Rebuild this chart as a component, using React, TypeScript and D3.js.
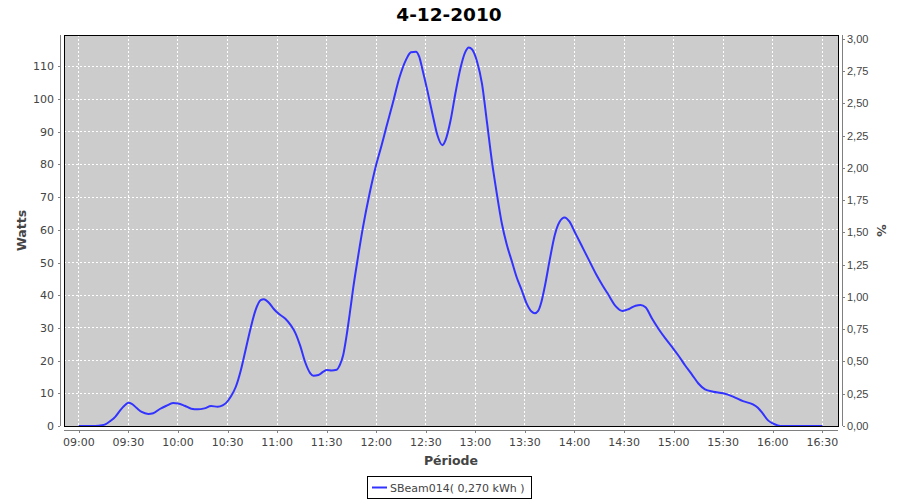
import React from "react";
import * as d3 from "d3";

const TITLE = "4-12-2010";
const SERIES_NAME = "SBeam014( 0,270 kWh )";
const X_TICKS = ["09:00","09:30","10:00","10:30","11:00","11:30","12:00","12:30","13:00","13:30","14:00","14:30","15:00","15:30","16:00","16:30"];
const Y_TICKS = [0,10,20,30,40,50,60,70,80,90,100,110];
const Y2_TICKS = [0,0.25,0.5,0.75,1,1.25,1.5,1.75,2,2.25,2.5,2.75,3];

const times = ["09:00","09:05","09:10","09:14","09:16","09:19","09:22","09:25","09:28","09:30","09:32","09:35","09:38","09:42","09:45","09:49","09:53","09:57","10:00","10:04","10:08","10:12","10:16","10:20","10:24","10:27","10:29","10:32","10:35","10:38","10:41","10:44","10:47","10:50","10:52","10:55","10:58","11:01","11:05","11:08","11:11","11:14","11:17","11:20","11:22","11:25","11:28","11:30","11:33","11:36","11:38","11:40","11:42","11:44","11:46","11:49","11:52","11:56","12:00","12:03","12:06","12:10","12:14","12:18","12:21","12:24","12:26","12:28","12:31","12:34","12:37","12:40","12:42","12:45","12:48","12:51","12:54","12:56","12:58","13:01","13:04","13:07","13:10","13:13","13:16","13:19","13:22","13:25","13:28","13:31","13:34","13:36","13:38","13:40","13:42","13:45","13:48","13:51","13:54","13:57","14:00","14:04","14:08","14:13","14:17","14:20","14:25","14:29","14:33","14:37","14:40","14:43","14:47","14:51","14:55","14:59","15:03","15:07","15:11","15:15","15:19","15:24","15:30","15:36","15:42","15:48","15:51","15:54","15:57","16:00","16:03","16:06","16:15","16:30"];
const watts = [0,0,0,0.2,0.5,1.5,2.8,4.8,6.4,7.1,6.8,5.5,4.3,3.7,3.9,5.2,6.2,7.0,6.9,6.2,5.3,5.1,5.4,6.1,5.9,6.3,7.0,9.0,12,17,23.5,30,35.5,38.5,38.8,37.7,35.8,34.3,32.8,31,28.5,24.5,19.5,16.2,15.4,15.6,16.6,17.1,17.0,17.2,18.7,21.7,27.5,34.5,42,51.8,60.9,71.2,80,85.4,91.2,98.7,106.5,112,114.3,114.5,113,109,102.5,95.5,89,85.9,87.5,93.5,102,109.5,114.5,115.8,115.2,111.5,104.7,93,81,71,62,55.5,50.5,45.5,41.6,37.5,35,34.5,35.2,38,42.6,50.8,58.3,62.5,63.8,62.5,59.5,55.5,51.5,46.5,43,40.6,36.6,35.2,35.8,36.8,37.0,36.3,32.8,29.6,26.8,24.2,21.5,18.5,15.8,13,11.2,10.5,10.0,9.0,7.6,6.6,5.6,3.8,1.8,0.8,0.2,0,0,0];

const parseT = (s: string) => {
  const [h, m] = s.split(":").map(Number);
  return new Date(2010, 11, 4, h, m, 0);
};

const W = 900, H = 500;
const PL = 64, PR = 838, PT = 35, PB = 426;

export default function App() {
  const x = d3.scaleTime().domain([new Date(2010, 11, 4, 8, 51, 0), new Date(2010, 11, 4, 16, 39, 30)]).range([PL, PR]);
  const y = d3.scaleLinear().domain([0, 119.6]).range([PB, PT]);
  const y2 = d3.scaleLinear().domain([0, 3.03]).range([PB, PT]);
  const data = times.map((t, i) => ({ t: parseT(t), v: watts[i] }));
  const line = d3.line<{ t: Date; v: number }>().x(d => x(d.t)).y(d => y(d.v)).curve(d3.curveMonotoneX);
  const tickFont = "DejaVu Sans, sans-serif";
  const fmt2 = (v: number) => v.toFixed(2).replace(".", ",");
  return (
    <div style={{ position: "absolute", left: 0, top: 0 }}>
      <svg width={W} height={H} style={{ display: "block" }}>
        <rect x={0} y={0} width={W} height={H} fill="#ffffff" />
        <text x={449} y={21} textAnchor="middle" fontFamily={tickFont} fontWeight="bold" fontSize={18.5} fill="#000">{TITLE}</text>
        <rect x={PL} y={PT} width={PR - PL} height={PB - PT} fill="#cccccc" />
        {X_TICKS.map(s => (
          <line key={"gx" + s} x1={x(parseT(s))} x2={x(parseT(s))} y1={PT} y2={PB} stroke="#ffffff" strokeDasharray="2,2" strokeWidth={1} shapeRendering="crispEdges" />
        ))}
        {Y_TICKS.map(v => (
          <line key={"gy" + v} x1={PL} x2={PR} y1={y(v)} y2={y(v)} stroke="#ffffff" strokeDasharray="2,2" strokeWidth={1} shapeRendering="crispEdges" />
        ))}
        <path d={line(data) || ""} fill="none" stroke="#3333ff" strokeWidth={2} strokeLinejoin="round" />
        <rect x={PL} y={PT} width={PR - PL} height={PB - PT} fill="none" stroke="#000" strokeWidth={1} shapeRendering="crispEdges" />
        {/* left axis */}
        <line x1={60.5} x2={60.5} y1={PT} y2={PB} stroke="#808080" />
        {Y_TICKS.map(v => (
          <g key={"ly" + v}>
            <line x1={58} x2={60} y1={Math.round(y(v)) + 0.5} y2={Math.round(y(v)) + 0.5} stroke="#808080" />
            <text x={54} y={y(v) + 4} textAnchor="end" fontFamily={tickFont} fontSize={11} fill="#444">{v}</text>
          </g>
        ))}
        <text transform={`translate(26,${(PT + PB) / 2}) rotate(-90)`} textAnchor="middle" fontFamily={tickFont} fontWeight="bold" fontSize={12.5} fill="#444">Watts</text>
        {/* right axis */}
        <line x1={842.5} x2={842.5} y1={PT} y2={PB} stroke="#808080" />
        {Y2_TICKS.map(v => (
          <g key={"ry" + v}>
            <line x1={843} x2={845} y1={Math.round(y2(v)) + 0.5} y2={Math.round(y2(v)) + 0.5} stroke="#808080" />
            <text x={847} y={y2(v) + 4} textAnchor="start" fontFamily="Liberation Sans, Arial, sans-serif" fontSize={11} fill="#444">{fmt2(v)}</text>
          </g>
        ))}
        <text transform={`translate(877,${(PT + PB) / 2}) rotate(90)`} textAnchor="middle" fontFamily={tickFont} fontWeight="bold" fontSize={12.5} fill="#444">%</text>
        {/* bottom axis */}
        <line x1={PL} x2={PR} y1={430.5} y2={430.5} stroke="#808080" />
        {X_TICKS.map(s => (
          <g key={"bx" + s}>
            <line x1={Math.round(x(parseT(s))) + 0.5} x2={Math.round(x(parseT(s))) + 0.5} y1={431} y2={433} stroke="#808080" />
            <text x={x(parseT(s))} y={446} textAnchor="middle" fontFamily={tickFont} fontSize={11} fill="#444">{s}</text>
          </g>
        ))}
        <text x={(PL + PR) / 2} y={465} textAnchor="middle" fontFamily={tickFont} fontWeight="bold" fontSize={12.5} fill="#444">Période</text>
        {/* legend */}
        <rect x={367.5} y={476.5} width={164} height={22} fill="#fff" stroke="#000" />
        <line x1={372} x2={387} y1={487.5} y2={487.5} stroke="#3333ff" strokeWidth={2} />
        <text x={390} y={491.5} fontFamily={tickFont} fontSize={11} fill="#444">{SERIES_NAME}</text>
      </svg>
    </div>
  );
}
